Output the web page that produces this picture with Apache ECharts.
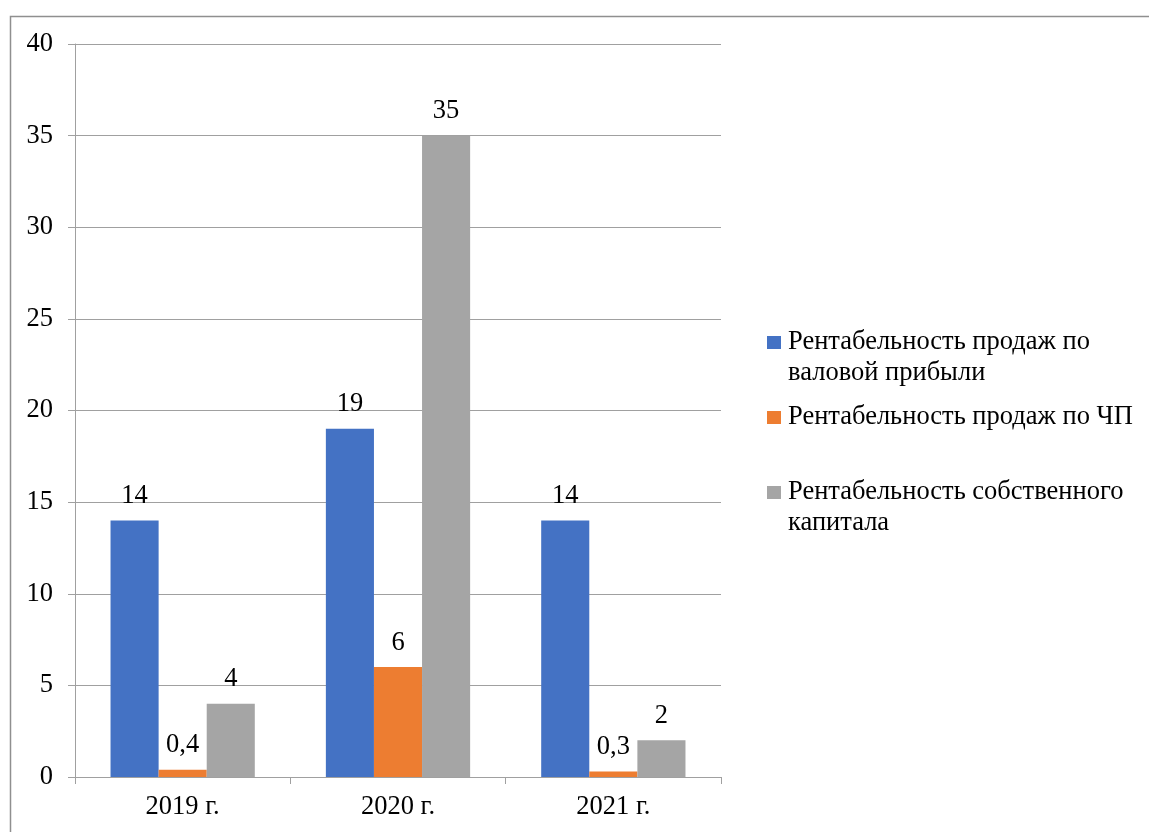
<!DOCTYPE html>
<html>
<head>
<meta charset="utf-8">
<script src="https://cdn.jsdelivr.net/npm/echarts@6/dist/echarts.min.js"></script>
<style>html,body{margin:0;padding:0;background:#fff}#c{width:1149px;height:832px}</style>
</head>
<body>
<div id="c"></div>
<script>
const categories = ['2019 г.', '2020 г.', '2021 г.'];
const seriesNames = [
  'Рентабельность продаж по валовой прибыли',
  'Рентабельность продаж по ЧП',
  'Рентабельность собственного капитала'
];
const grossMargin = [14, 19, 14];
const netMargin = [0.4, 6, 0.3];
const roe = [4, 35, 2];
const yTicks = [0, 5, 10, 15, 20, 25, 30, 35, 40];

const colors = ['#4472C4', '#ED7D31', '#A5A5A5'];
const font = 'Liberation Serif';
const fs = 26.5;
const legendLines = {
  [seriesNames[0]]: ['Рентабельность продаж по', 'валовой прибыли'],
  [seriesNames[1]]: ['Рентабельность продаж по ЧП', ''],
  [seriesNames[2]]: ['Рентабельность собственного', 'капитала']
};
const sqKey = {[seriesNames[0]]: 'b', [seriesNames[1]]: 'o', [seriesNames[2]]: 'g'};

const chart = echarts.init(document.getElementById('c'), null, {renderer: 'canvas'});
function bar(name, data, color) {
  return {
    name, type: 'bar', data, barGap: '0%', barCategoryGap: '33%',
    itemStyle: {color},
    label: {
      show: true, position: 'top', distance: 11,
      fontFamily: font, fontSize: fs, color: '#000',
      formatter: p => String(p.value).replace('.', ',')
    }
  };
}
const textLine = {fontFamily: font, fontSize: fs, color: '#000', lineHeight: 31};
chart.setOption({
  animation: false,
  color: colors,
  graphic: [{
    type: 'rect', left: 8, top: 14, z: -10,
    shape: {width: 1300, height: 1000},
    style: {fill: 'none', stroke: '#8f8f8f', lineWidth: 1.5}
  }],
  grid: {left: 75, right: 428, top: 44, bottom: 55, containLabel: false},
  legend: {
    orient: 'vertical', left: 762, top: 327, itemGap: 13, padding: 0,
    icon: 'none', itemWidth: 0, itemHeight: 0,
    data: seriesNames,
    formatter: name => {
      const l = legendLines[name];
      return '{' + sqKey[name] + '|}{sp|}{t|' + l[0] + '}\n{in|}{t|' + (l[1] || ' ') + '}';
    },
    textStyle: {
      fontFamily: font, fontSize: fs, color: '#000', lineHeight: 31,
      rich: {
        b: {width: 14, height: 13, backgroundColor: colors[0]},
        o: {width: 14, height: 13, backgroundColor: colors[1]},
        g: {width: 14, height: 13, backgroundColor: colors[2]},
        sp: {width: 7},
        in: {width: 21},
        t: textLine
      }
    }
  },
  xAxis: {
    type: 'category', data: categories,
    axisLine: {lineStyle: {color: '#a0a0a0', width: 1}},
    axisTick: {show: true, length: 7, alignWithLabel: false, lineStyle: {color: '#a0a0a0'}},
    axisLabel: {fontFamily: font, fontSize: fs, color: '#000', margin: 17}
  },
  yAxis: {
    type: 'value', min: 0, max: 40, interval: 5,
    axisLine: {show: true, lineStyle: {color: '#a0a0a0', width: 1}},
    axisTick: {show: true, length: 7, lineStyle: {color: '#a0a0a0'}},
    splitLine: {lineStyle: {color: '#a0a0a0', width: 1}},
    axisLabel: {fontFamily: font, fontSize: fs, color: '#000', margin: 22,
      formatter: v => yTicks.includes(v) ? String(v) : ''}
  },
  series: [
    bar(seriesNames[0], grossMargin, colors[0]),
    bar(seriesNames[1], netMargin, colors[1]),
    bar(seriesNames[2], roe, colors[2])
  ]
});
</script>
</body>
</html>
